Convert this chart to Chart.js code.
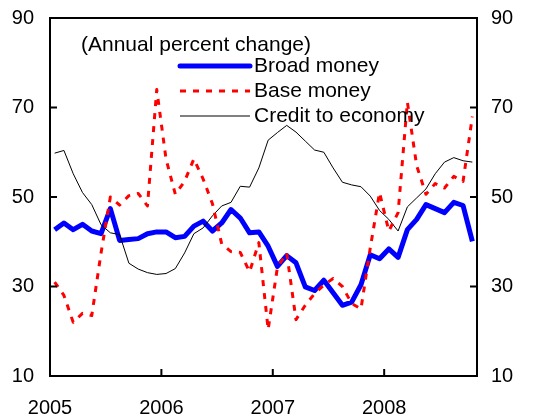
<!DOCTYPE html>
<html>
<head>
<meta charset="utf-8">
<script src="https://cdn.jsdelivr.net/npm/chart.js@4/dist/chart.umd.min.js"></script>
<style>
  html, body { margin: 0; padding: 0; background: #ffffff; }
  #wrap { width: 537px; height: 416px; position: relative; }
</style>
</head>
<body>
<div id="wrap"><canvas id="c" width="537" height="416"></canvas></div>
<script>
// ---- Data (monthly, Jan 2005 – Oct 2008) ----
const startYear = 2005;
const unitNote = '(Annual percent change)';
const seriesLabels = ['Broad money', 'Base money', 'Credit to economy'];
const broadMoney = [42.7,44.2,42.7,43.9,42.4,41.8,47.4,40.3,40.5,40.7,41.8,42.2,42.2,40.9,41.2,43.5,44.6,42.4,44.2,47.2,45.3,42.0,42.2,39.0,34.5,36.9,35.3,29.9,29.1,31.4,28.6,25.8,26.5,30.4,37.1,36.2,38.4,36.5,42.7,45.0,48.3,47.4,46.5,48.8,48.1,40.1];
const baseMoney = [31,28,22,24,23.5,37.5,50,48.2,50.3,50.8,48,74,58.5,50.6,53.5,58.5,54,48.5,39.5,37.8,37.6,33.3,39.8,20.4,34.3,37.5,22.6,25.8,28.4,30.3,31.8,30,26.2,25,38.6,51,42.4,46.5,71.2,57,50.6,53,52,54.6,53.5,68];
const creditToEconomy = [59.8,60.4,55.2,51.0,48.3,43.8,42.0,41.6,35.2,33.9,33.1,32.7,32.9,34.0,37.5,41.8,43.1,45.8,48.0,48.8,52.4,52.2,56.5,62.7,64.4,66.0,64.5,62.5,60.5,60.0,56.5,53.3,52.7,52.3,50.2,47.0,45.0,42.4,47.8,49.8,51.8,55.2,57.8,58.8,58.1,57.8];
const yearTicks = [2005, 2006, 2007, 2008];
const yTickValues = [10, 30, 50, 70, 90];
const yMin = 10, yMax = 90;

const nMonths = broadMoney.length;
const toPoints = arr => arr.map((v, i) => ({ x: startYear + (i + 0.5) / 12, y: v }));

const FONT = '"Liberation Sans", Arial, sans-serif';

const framePlugin = {
  id: 'frame',
  afterDatasetsDraw(chart) {
    const ctx = chart.ctx, a = chart.chartArea;
    const ys = chart.scales.y, xs = chart.scales.x;
    ctx.save();
    ctx.strokeStyle = '#000';
    ctx.lineWidth = 2;
    ctx.setLineDash([]);
    ctx.strokeRect(a.left, a.top, a.right - a.left, a.bottom - a.top);
    ctx.beginPath();
    yTickValues.forEach(v => {
      const py = ys.getPixelForValue(v);
      ctx.moveTo(a.left, py); ctx.lineTo(a.left + 7, py);
      ctx.moveTo(a.right, py); ctx.lineTo(a.right - 7, py);
    });
    yearTicks.forEach(v => {
      const px = xs.getPixelForValue(v);
      ctx.moveTo(px, a.bottom); ctx.lineTo(px, a.bottom - 7);
    });
    ctx.stroke();

    // legend
    const ds = chart.data.datasets;
    ctx.fillStyle = '#000';
    ctx.font = '21px ' + FONT;
    ctx.textBaseline = 'middle';
    ctx.textAlign = 'left';
    ctx.fillText(unitNote, a.left + 31, a.top + 27);
    const rowOffsets = [48, 73, 98];
    [0, 1, 2].forEach((k, r) => {
      const d = ds[k];
      const y = a.top + rowOffsets[r];
      ctx.save();
      ctx.strokeStyle = d.borderColor;
      ctx.lineWidth = d.borderWidth;
      ctx.lineCap = k === 0 ? 'round' : 'butt';
      ctx.setLineDash(d.borderDash || []);
      ctx.beginPath();
      ctx.moveTo(a.left + 130, y);
      ctx.lineTo(a.left + 200, y);
      ctx.stroke();
      ctx.restore();
      ctx.fillStyle = '#000';
      ctx.fillText(d.label, a.left + 204, y);
    });
    ctx.restore();
  }
};

const fitY = w => s => { s.width = w; s.paddingTop = 0; s.paddingBottom = 0; };

new Chart(document.getElementById('c'), {
  type: 'line',
  data: {
    datasets: [
      { label: seriesLabels[0], data: toPoints(broadMoney), borderColor: '#0000ff', borderWidth: 5, borderJoinStyle: 'round', pointRadius: 0, tension: 0, order: 3, fill: false },
      { label: seriesLabels[1], data: toPoints(baseMoney), borderColor: '#ff0000', borderWidth: 3, borderDash: [6, 7], borderJoinStyle: 'round', pointRadius: 0, tension: 0, order: 1, fill: false },
      { label: seriesLabels[2], data: toPoints(creditToEconomy), borderColor: '#000000', borderWidth: 1, pointRadius: 0, tension: 0, order: 2, fill: false }
    ]
  },
  options: {
    responsive: false,
    animation: false,
    devicePixelRatio: 1,
    layout: { padding: { top: 18, left: 0, right: 0, bottom: 0 } },
    plugins: { legend: { display: false }, tooltip: { enabled: false }, title: { display: false } },
    scales: {
      x: {
        type: 'linear',
        min: startYear,
        max: startYear + nMonths / 12,
        grid: { display: false, drawTicks: false },
        border: { display: false },
        afterBuildTicks: s => { s.ticks = yearTicks.map(v => ({ value: v })); },
        afterFit: s => { s.height = 40; s.paddingLeft = 0; s.paddingRight = 0; },
        ticks: { color: '#000', font: { family: FONT, size: 20 }, padding: 20, maxRotation: 0, autoSkip: false, callback: v => String(v) }
      },
      y: {
        position: 'left',
        min: yMin, max: yMax,
        grid: { display: false, drawTicks: false },
        border: { display: false },
        afterBuildTicks: s => { s.ticks = yTickValues.map(v => ({ value: v })); },
        afterFit: fitY(50),
        ticks: { color: '#000', font: { family: FONT, size: 20 }, padding: 16 }
      },
      y2: {
        position: 'right',
        min: yMin, max: yMax,
        grid: { display: false, drawTicks: false },
        border: { display: false },
        afterBuildTicks: s => { s.ticks = yTickValues.map(v => ({ value: v })); },
        afterFit: fitY(60),
        ticks: { color: '#000', font: { family: FONT, size: 20 }, padding: 14 }
      }
    }
  },
  plugins: [framePlugin]
});
</script>
</body>
</html>
